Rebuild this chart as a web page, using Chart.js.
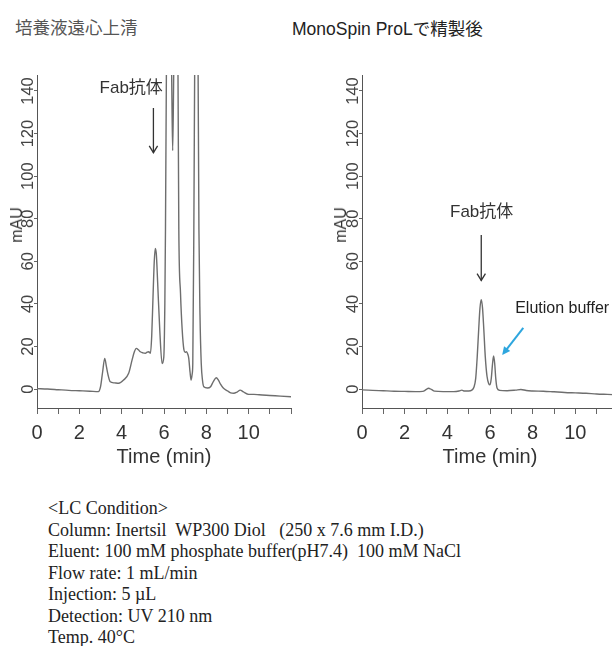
<!DOCTYPE html>
<html><head><meta charset="utf-8">
<script src="https://cdn.jsdelivr.net/npm/chart.js@4.4.1/dist/chart.umd.min.js"></script>
<style>
html,body{margin:0;padding:0;background:#fff;width:612px;height:646px;overflow:hidden;position:relative;}
.box{position:absolute;top:0;width:306px;height:470px;}
#leftBox{left:0;}
#rightBox{left:325px;}
.ttl{position:absolute;white-space:pre;line-height:1;font-size:17.5px;}
.ylab{position:absolute;font-family:"Liberation Sans",Arial,sans-serif;font-size:16px;color:#333;line-height:1;transform:translate(-50%,-50%) rotate(-90deg);white-space:pre;}
.cond{position:absolute;left:48px;top:498px;font-family:"Liberation Serif","Times New Roman",serif;font-size:18px;line-height:21.5px;color:#222;white-space:pre;}
</style>
</head><body>
<div class="ttl" style="left:15px;top:18px;font-family:'Noto Sans CJK JP',sans-serif;color:#555;">培養液遠心上清</div>
<div class="ttl" style="left:292px;top:21px;font-family:'Liberation Sans','Noto Sans CJK JP',sans-serif;color:#222;">MonoSpin ProLで精製後</div>
<div class="box" id="leftBox"><canvas id="leftChart"></canvas></div>
<div class="box" id="rightBox"><canvas id="rightChart"></canvas></div>
<div class="ylab" style="left:17px;top:225px;">mAU</div>
<div class="ylab" style="left:341px;top:225px;">mAU</div>
<div class="cond">&lt;LC Condition&gt;
Column: Inertsil  WP300 Diol   (250 x 7.6 mm I.D.)
Eluent: 100 mM phosphate buffer(pH7.4)  100 mM NaCl
Flow rate: 1 mL/min
Injection: 5 µL
Detection: UV 210 nm
Temp. 40°C</div>
<script>
// ---- data ----
const leftTime = [0.00,0.50,1.00,1.50,2.00,2.50,2.90,3.00,3.10,3.20,3.28,3.36,3.46,3.65,3.86,4.09,4.33,4.49,4.60,4.69,4.80,4.88,5.00,5.12,5.20,5.28,5.36,5.42,5.48,5.54,5.59,5.64,5.70,5.80,5.91,5.99,6.04,6.07,6.12,6.20,6.30,6.37,6.41,6.45,6.52,6.60,6.66,6.70,6.78,6.86,6.94,7.00,7.06,7.12,7.17,7.23,7.28,7.33,7.36,7.41,7.46,7.53,7.60,7.65,7.70,7.76,7.82,7.88,8.05,8.20,8.33,8.47,8.57,8.67,8.80,8.99,9.15,9.30,9.45,9.60,9.75,10.00,10.25,10.50,11.00,11.50,12.00];
const leftAbs  = [0.2,0.0,-0.3,-0.6,-0.8,-1.0,-1.2,1.0,8.0,14.4,10.5,6.5,3.4,2.9,2.7,4.2,7.4,13.6,17.5,19.1,18.3,17.5,17.0,16.8,17.3,17.5,16.8,25,43,60,66,63,50,27.7,12,15,40,75,160,220,200,140,112,140,210,200,150,75,45,27.7,18.5,17.3,17.5,16.5,14.4,8,4.2,7,12,75,170,230,170,75,35,12,4,1.1,0.5,1.1,3.5,5.3,4.2,2.3,0.5,-0.8,-1.8,-2.0,-1.4,-0.5,-1.3,-2.5,-2.5,-2.7,-3.0,-3.3,-3.6];
const rightTime = [0.00,0.50,1.00,1.50,2.00,2.50,2.85,3.00,3.12,3.25,3.40,3.80,4.30,4.55,4.68,4.80,5.00,5.15,5.25,5.33,5.40,5.47,5.53,5.59,5.65,5.71,5.78,5.86,5.94,6.00,6.06,6.12,6.17,6.22,6.27,6.33,6.45,6.80,7.20,7.45,7.70,8.00,8.50,9.00,9.50,10.00,10.50,11.00,11.50,12.00];
const rightAbs  = [-0.4,-0.6,-0.8,-1.0,-1.1,-1.2,-1.1,-0.3,0.4,-0.2,-1.0,-1.2,-1.2,-0.9,-0.5,-0.9,-0.9,-0.5,1.0,5,15,28,38,42,38,28,15,6,2.5,2,5,12,15.5,12,5,0.5,-0.6,-0.8,-0.5,-0.2,-0.7,-0.9,-1.0,-1.3,-1.6,-1.8,-2.0,-2.3,-2.5,-2.7];
const xTickValues = [0,1,2,3,4,5,6,7,8,9,10,11,12];
const xTickLabels = ['0','','2','','4','','6','','8','','10','',''];
const yTickValues = [0,20,40,60,80,100,120,140];
const yTickLabels = ['0','20','40','60','80','100','120','140'];
const xRange = [0, 12];
const yRange = [-8.9, 147.5];

const annotate = {
  id: 'annotate',
  afterDatasetsDraw(chart, args, opts) {
    const {ctx, scales: {x, y}} = chart;
    ctx.save();
    (opts.texts || []).forEach(a => {
      ctx.font = a.font; ctx.fillStyle = a.color; ctx.textAlign = a.align; ctx.textBaseline = 'middle';
      ctx.fillText(a.text, x.getPixelForValue(a.x), y.getPixelForValue(a.y));
    });
    (opts.arrows || []).forEach(a => {
      const x1 = x.getPixelForValue(a.x1), y1 = y.getPixelForValue(a.y1);
      const x2 = x.getPixelForValue(a.x2), y2 = y.getPixelForValue(a.y2);
      const ang = Math.atan2(y2 - y1, x2 - x1);
      ctx.strokeStyle = a.color; ctx.fillStyle = a.color; ctx.lineWidth = a.width;
      ctx.beginPath(); ctx.moveTo(x1, y1);
      if (a.filled) ctx.lineTo(x2 - Math.cos(ang) * a.head * 0.8, y2 - Math.sin(ang) * a.head * 0.8);
      else ctx.lineTo(x2, y2);
      ctx.stroke();
      const hx1 = x2 - a.head * Math.cos(ang - a.spread), hy1 = y2 - a.head * Math.sin(ang - a.spread);
      const hx2 = x2 - a.head * Math.cos(ang + a.spread), hy2 = y2 - a.head * Math.sin(ang + a.spread);
      ctx.beginPath();
      if (a.filled) {
        ctx.moveTo(hx1, hy1); ctx.lineTo(x2, y2); ctx.lineTo(hx2, hy2); ctx.closePath(); ctx.fill();
      } else {
        ctx.moveTo(hx1, hy1); ctx.lineTo(x2, y2); ctx.lineTo(hx2, hy2); ctx.stroke();
      }
    });
    ctx.restore();
  }
};

function makeChart(id, times, values, annot, rightPad) {
  const pts = times.map((t, i) => ({x: t, y: values[i]}));
  return new Chart(document.getElementById(id), {
    type: 'line',
    data: {datasets: [{data: pts, borderColor: '#6e6e6e', borderWidth: 1.4, pointRadius: 0, fill: false, cubicInterpolationMode: 'monotone'}]},
    plugins: [annotate],
    options: {
      responsive: true, maintainAspectRatio: false, animation: false,
      layout: {padding: {left: 0, top: 75, right: rightPad, bottom: 0}},
      plugins: {legend: {display: false}, tooltip: {enabled: false}, annotate: annot},
      scales: {
        x: {
          type: 'linear', min: xRange[0], max: xRange[1],
          afterBuildTicks: s => { s.ticks = xTickValues.map(v => ({value: v})); },
          afterFit: s => { s.height = 62; },
          grid: {drawOnChartArea: false, drawTicks: true, tickLength: 6, color: '#666', tickColor: '#666'},
          border: {display: true, color: '#555', width: 1},
          ticks: {autoSkip: false, maxRotation: 0, padding: 7, color: '#333', font: {family: '"Liberation Sans", Arial, sans-serif', size: 20},
                  callback: (v, i) => xTickLabels[i]},
          title: {display: true, text: 'Time (min)', color: '#333', padding: {top: 0, bottom: 1}, font: {family: '"Liberation Sans", Arial, sans-serif', size: 20}}
        },
        y: {
          type: 'linear', min: yRange[0], max: yRange[1],
          afterBuildTicks: s => { s.ticks = yTickValues.map(v => ({value: v})); },
          afterFit: s => { s.width = 37; },
          grid: {drawOnChartArea: false, drawTicks: true, tickLength: 3, color: '#666', tickColor: '#666'},
          border: {display: true, color: '#555', width: 1},
          ticks: {autoSkip: false, minRotation: 90, maxRotation: 90, crossAlign: 'center', padding: -8, color: '#444',
                  font: {family: '"Liberation Sans", Arial, sans-serif', size: 16.5},
                  callback: (v, i) => yTickLabels[i]}
        }
      }
    }
  });
}

const fabFont = '17px "Liberation Sans", "Noto Sans CJK JP", sans-serif';
makeChart('leftChart', leftTime, leftAbs, {
  texts: [{text: 'Fab抗体', x: 4.45, y: 141.4, align: 'center', font: fabFont, color: '#333'}],
  arrows: [{x1: 5.5, y1: 132, x2: 5.5, y2: 111, color: '#333', width: 1.3, head: 8, spread: 0.55, filled: false}]
}, 15);
makeChart('rightChart', rightTime, rightAbs, {
  texts: [
    {text: 'Fab抗体', x: 5.61, y: 83.2, align: 'center', font: fabFont, color: '#333'},
    {text: 'Elution buffer', x: 7.18, y: 37.6, align: 'left', font: '16px "Liberation Sans", Arial, sans-serif', color: '#222'}
  ],
  arrows: [
    {x1: 5.59, y1: 72.3, x2: 5.59, y2: 51, color: '#333', width: 1.3, head: 8, spread: 0.55, filled: false},
    {x1: 7.56, y1: 28.7, x2: 6.57, y2: 16, color: '#2ea6de', width: 2, head: 9, spread: 0.45, filled: true}
  ]
}, 13);
</script>
</body></html>
